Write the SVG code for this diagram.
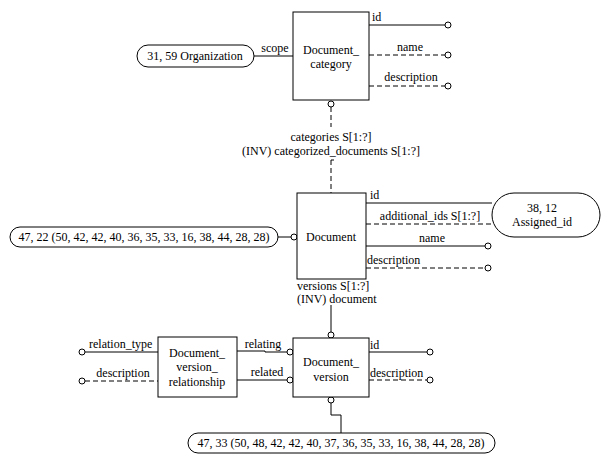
<svg xmlns="http://www.w3.org/2000/svg" width="610" height="465" viewBox="0 0 610 465" font-family="'Liberation Serif', 'Times New Roman', 'DejaVu Serif', serif" font-size="12">
<style>
text{font-family:'Liberation Serif','Times New Roman','DejaVu Serif',serif;font-size:12px;fill:#000}
.m{text-anchor:middle}
.box{fill:#fff;stroke:#000;stroke-width:1}
.l{stroke:#000;stroke-width:1;fill:none}
.d{stroke:#000;stroke-width:1;fill:none;stroke-dasharray:5,3}
.c{fill:#fff;stroke:#000;stroke-width:1}
</style>
<rect width="610" height="465" fill="#fff"/>
<g id="connectors">
<line class="l" x1="254" y1="56" x2="293" y2="56"/>
<text class="m" x="275" y="52">scope</text>
<line class="l" x1="369" y1="25" x2="445" y2="25"/><circle class="c" cx="448" cy="25" r="3"/>
<text x="372" y="21">id</text>
<line class="d" x1="369" y1="55" x2="445" y2="55"/><circle class="c" cx="448" cy="55" r="3"/>
<text class="m" x="410" y="51">name</text>
<line class="d" x1="369" y1="86" x2="445" y2="86"/><circle class="c" cx="448" cy="86" r="3"/>
<text class="m" x="411" y="81">description</text>
<circle class="c" cx="331" cy="104" r="3"/>
<line class="d" x1="331" y1="107" x2="331" y2="127"/>
<text class="m" x="331" y="141">categories S[1:?]</text>
<text class="m" x="331" y="155">(INV) categorized_documents S[1:?]</text>
<line class="d" x1="331" y1="160" x2="331" y2="193"/>
<line class="l" x1="331" y1="160" x2="334" y2="160"/>
<line class="l" x1="278" y1="237" x2="291" y2="237"/><circle class="c" cx="294" cy="237" r="3"/>
<line class="l" x1="366" y1="203" x2="492" y2="203"/>
<text x="370" y="199">id</text>
<line class="d" x1="366" y1="224" x2="492" y2="224"/>
<text class="m" x="430" y="220">additional_ids S[1:?]</text>
<line class="l" x1="366" y1="246" x2="485" y2="246"/><circle class="c" cx="488" cy="246" r="3"/>
<text class="m" x="432" y="242">name</text>
<line class="d" x1="366" y1="268" x2="485" y2="268"/><circle class="c" cx="488" cy="268" r="3"/>
<text x="367" y="264">description</text>
<text x="297" y="290">versions S[1:?]</text>
<text x="297" y="303">(INV) document</text>
<line class="l" x1="331" y1="305" x2="331" y2="332"/><circle class="c" cx="331" cy="335" r="3"/>
<line class="l" x1="369" y1="352" x2="427" y2="352"/><circle class="c" cx="430" cy="352" r="3"/>
<text x="370" y="349">id</text>
<line class="d" x1="369" y1="380" x2="427" y2="380"/><circle class="c" cx="430" cy="380" r="3"/>
<text x="370" y="377">description</text>
<circle class="c" cx="331" cy="400" r="3"/>
<polyline class="l" points="331,403 331,415 341,415 341,433"/>
<circle class="c" cx="82" cy="352" r="3"/><line class="l" x1="85" y1="352" x2="158" y2="352"/>
<text x="89" y="348">relation_type</text>
<circle class="c" cx="82" cy="381" r="3"/><line class="d" x1="85" y1="381" x2="158" y2="381"/>
<text class="m" x="123" y="377">description</text>
<polyline class="l" points="237,351 265,351 265,352 287,352"/><circle class="c" cx="290" cy="352" r="3"/>
<text class="m" x="263" y="348">relating</text>
<line class="l" x1="237" y1="380" x2="287" y2="380"/><circle class="c" cx="290" cy="380" r="3"/>
<text class="m" x="267" y="376">related</text>
</g>
<g id="organization">
<rect class="box" x="137" y="45" width="117" height="22" rx="11"/>
<text class="m" x="195" y="60">31, 59 Organization</text>
</g>
<g id="document_category">
<rect class="box" x="293" y="12" width="76" height="88"/>
<text class="m" x="331" y="54">Document_</text>
<text class="m" x="331" y="68">category</text>
</g>
<g id="document_ref">
<rect class="box" x="10" y="227" width="268" height="20" rx="10"/>
<text class="m" x="144" y="241">47, 22 (50, 42, 42, 40, 36, 35, 33, 16, 38, 44, 28, 28)</text>
</g>
<g id="document">
<rect class="box" x="297" y="193" width="69" height="86"/>
<text class="m" x="331" y="241">Document</text>
</g>
<g id="assigned_id">
<rect class="box" x="492" y="193" width="108" height="44" rx="22"/>
<text class="m" x="542" y="212">38, 12</text>
<text class="m" x="542" y="226">Assigned_id</text>
</g>
<g id="document_version">
<rect class="box" x="293" y="338" width="76" height="59"/>
<text class="m" x="331" y="366">Document_</text>
<text class="m" x="331" y="381">version</text>
</g>
<g id="document_version_relationship">
<rect class="box" x="158" y="337" width="79" height="60"/>
<text class="m" x="197" y="357">Document_</text>
<text class="m" x="197" y="371">version_</text>
<text class="m" x="197" y="386">relationship</text>
</g>
<g id="document_version_ref">
<rect class="box" x="188" y="433" width="307" height="20" rx="10"/>
<text class="m" x="341" y="447">47, 33 (50, 48, 42, 42, 40, 37, 36, 35, 33, 16, 38, 44, 28, 28)</text>
</g>
</svg>
